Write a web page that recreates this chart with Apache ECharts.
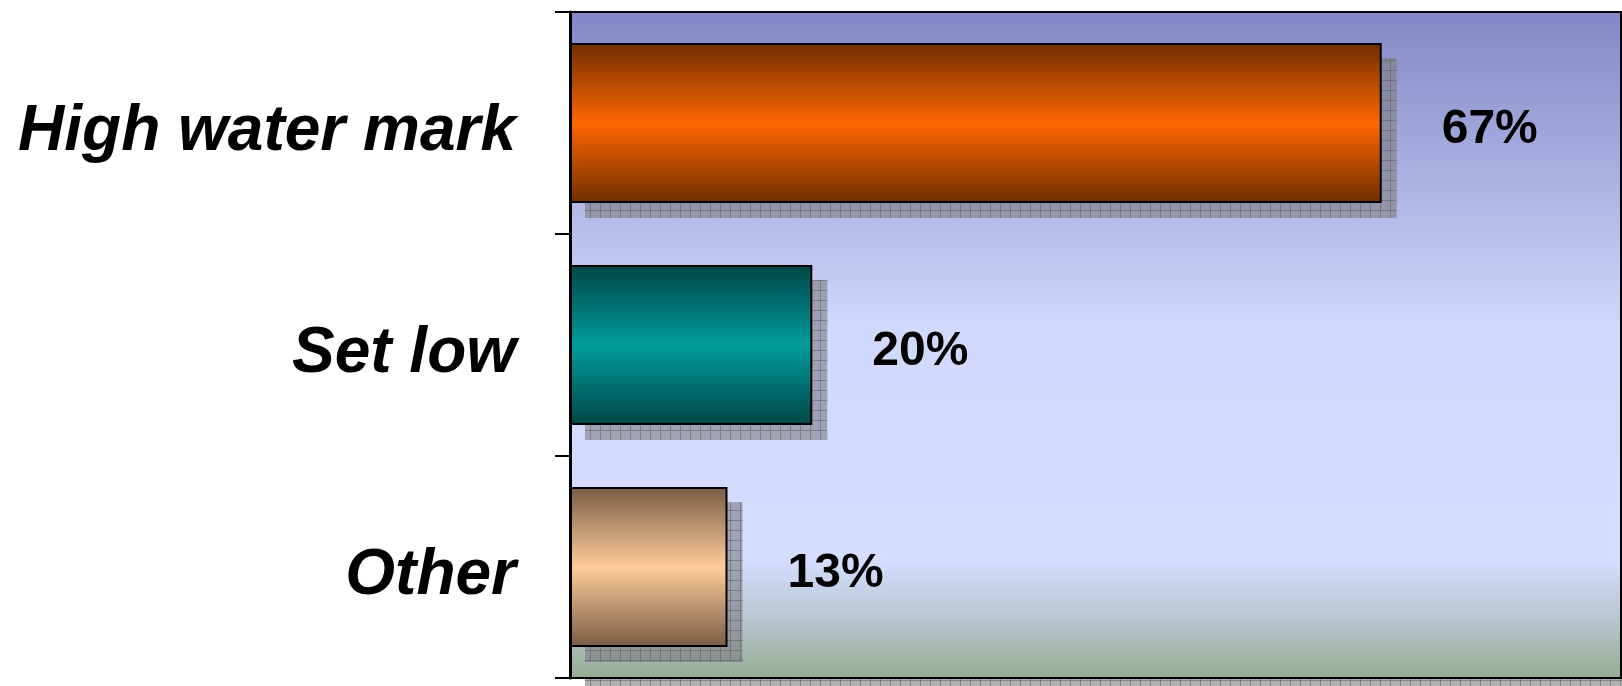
<!DOCTYPE html>
<html>
<head>
<meta charset="utf-8">
<title>High water mark</title>
<script src="https://cdn.jsdelivr.net/npm/echarts@6/dist/echarts.min.js"></script>
<style>
  html, body { margin: 0; padding: 0; background: #ffffff; }
  #chart { width: 1622px; height: 686px; }
</style>
</head>
<body>
<div id="chart"></div>
<script>
// Survey answers, in percent
const categories = ['High water mark', 'Set low', 'Other'];
const values = [67, 20, 13];

// Bar fills: dark edge / bright centre of each cylinder-like gradient
const barPalette = [
  ['#6f2e00', '#ff6600'],
  ['#004646', '#009c9c'],
  ['#775c44', '#ffcc99']
];

const AXIS_MAX = 86.75;
const SHADOW = 15;
const FONT = '"Liberation Sans", Arial, Helvetica, sans-serif';

// Gray shadow texture with a fine grid
function makeShadowPattern() {
  const c = document.createElement('canvas');
  c.width = 10; c.height = 10;
  const g = c.getContext('2d');
  g.fillStyle = 'rgba(120,120,126,0.55)';
  g.fillRect(0, 0, 10, 10);
  // light dithering
  g.fillStyle = 'rgba(150,150,156,0.25)';
  for (let y = 0; y < 10; y++) {
    for (let x = (y % 2); x < 10; x += 2) g.fillRect(x, y, 1, 1);
  }
  g.fillStyle = 'rgba(95,95,100,0.55)';
  g.fillRect(0, 0, 10, 1);
  g.fillRect(0, 0, 1, 10);
  return c;
}
const shadowFill = { image: makeShadowPattern(), repeat: 'repeat' };

function barGradient(i) {
  const [edge, mid] = barPalette[i];
  return {
    type: 'linear', x: 0, y: 0, x2: 0, y2: 1,
    colorStops: [
      { offset: 0, color: edge },
      { offset: 0.5, color: mid },
      { offset: 1, color: edge }
    ]
  };
}

const chart = echarts.init(document.getElementById('chart'), null, { renderer: 'canvas' });

const option = {
  animation: false,
  grid: {
    left: 570, top: 12, right: 1, bottom: 8,
    show: true,
    borderColor: '#000', borderWidth: 2,
    backgroundColor: {
      type: 'linear', x: 0, y: 0, x2: 0, y2: 1,
      colorStops: [
        { offset: 0, color: '#8487c5' },
        { offset: 0.18, color: '#9fa5da' },
        { offset: 0.33, color: '#b8bfea' },
        { offset: 0.47, color: '#d0d8fb' },
        { offset: 0.82, color: '#d5deff' },
        { offset: 0.89, color: '#bfcbdc' },
        { offset: 1, color: '#95ac92' }
      ]
    }
  },
  xAxis: { type: 'value', min: 0, max: AXIS_MAX, show: false },
  yAxis: {
    type: 'category',
    data: categories,
    inverse: true,
    axisLine: { show: true, lineStyle: { color: '#000', width: 3 } },
    axisTick: { show: true, length: 15, lineStyle: { color: '#000', width: 2 } },
    axisLabel: {
      margin: 54,
      formatter: function (v) { return '{t|' + v + '}'; },
      rich: {
        t: {
          padding: [18, 0, 0, 0],
          color: '#000',
          fontFamily: FONT,
          fontSize: 64,
          fontWeight: 'bold',
          fontStyle: 'italic'
        }
      }
    },
    splitLine: { show: false }
  },
  series: [
    {
      // drop shadow of the plot area
      type: 'custom',
      silent: true,
      data: [[0, 0]],
      renderItem: function (params, api) {
        const cs = params.coordSys;
        return {
          type: 'group',
          children: [
            { type: 'rect', shape: { x: cs.x + SHADOW, y: cs.y + cs.height + 1, width: cs.width, height: SHADOW }, style: { fill: shadowFill } },
            { type: 'rect', shape: { x: cs.x + cs.width + 1, y: cs.y + SHADOW, width: SHADOW, height: cs.height }, style: { fill: shadowFill } }
          ]
        };
      }
    },
    {
      // drop shadows of the bars
      type: 'custom',
      silent: true,
      data: values.map((v, i) => [v, i]),
      encode: { x: 0, y: 1 },
      renderItem: function (params, api) {
        const idx = api.value(1);
        const start = api.coord([0, idx]);
        const end = api.coord([api.value(0), idx]);
        const h = api.size([0, 1])[1] * 0.72;
        return {
          type: 'rect',
          shape: { x: start[0] + SHADOW, y: start[1] - h / 2 + SHADOW, width: end[0] - start[0], height: h },
          style: { fill: shadowFill }
        };
      }
    },
    {
      type: 'bar',
      barCategoryGap: '28%',
      data: values.map((v, i) => ({
        value: v,
        itemStyle: { color: barGradient(i) }
      })),
      itemStyle: { borderColor: '#000', borderWidth: 2 },
      label: {
        show: true,
        position: 'right',
        distance: 60,
        offset: [0, 7],
        formatter: '{c}%',
        color: '#000',
        fontFamily: FONT,
        fontSize: 48,
        fontWeight: 'bold'
      }
    }
  ]
};

chart.setOption(option);
</script>
</body>
</html>
